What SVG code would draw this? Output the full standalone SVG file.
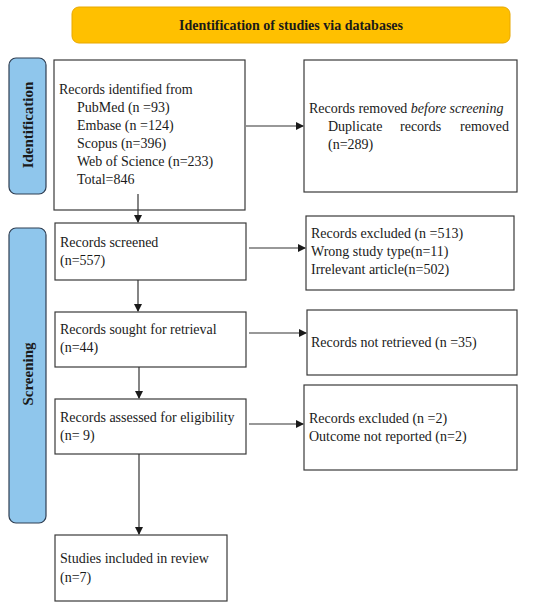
<svg xmlns="http://www.w3.org/2000/svg" width="550" height="609" viewBox="0 0 550 609">
<defs>
<marker id="ah" markerWidth="8" markerHeight="8" refX="7" refY="4" orient="auto" markerUnits="userSpaceOnUse">
<path d="M0,0 L8,4 L0,8 Z" fill="#1a1a1a"/>
</marker>
<style>
.box{fill:#fff;stroke:#3a3a3a;stroke-width:1.2}
.side{fill:#8fc6ec;stroke:#2f3e52;stroke-width:1.2}
.banner{fill:#ffc000;stroke:#e8a800;stroke-width:1}
.t{font-family:"Liberation Serif","Times New Roman",serif;font-size:14px;fill:#1a1a1a}
.b{font-family:"Liberation Serif","Times New Roman",serif;font-weight:bold;fill:#1a1a1a}
.c{stroke:#333;stroke-width:1.2;fill:none}
</style>
</defs>
<rect width="550" height="609" fill="#fff"/>
<g id="banner">
<rect class="banner" x="72" y="7" width="438" height="36" rx="7"/>
<text class="b" x="291" y="30" font-size="14" text-anchor="middle">Identification of studies via databases</text>
</g>
<g id="label-identification">
<rect class="side" x="9" y="58" width="37" height="136" rx="7"/>
<text class="b" font-size="15" text-anchor="middle" transform="translate(33,125) rotate(-90)">Identification</text>
</g>
<g id="label-screening">
<rect class="side" x="9" y="228" width="37" height="295" rx="7"/>
<text class="b" font-size="15" text-anchor="middle" transform="translate(33,374) rotate(-90)">Screening</text>
</g>
<g id="identified">
<rect class="box" x="54" y="60" width="191" height="150"/>
<text class="t" x="59" y="94">Records identified from</text>
<text class="t" x="77" y="112">PubMed (n =93)</text>
<text class="t" x="77" y="130">Embase (n =124)</text>
<text class="t" x="77" y="148">Scopus (n=396)</text>
<text class="t" x="77" y="166">Web of Science (n=233)</text>
<text class="t" x="77" y="184">Total=846</text>
</g>
<g id="removed">
<rect class="box" x="304" y="60" width="213" height="132"/>
<text class="t" x="309" y="113">Records removed <tspan font-style="italic">before screening</tspan></text>
<text class="t" y="131"><tspan x="328">Duplicate</tspan><tspan x="400">records</tspan><tspan x="460">removed</tspan></text>
<text class="t" x="328" y="149">(n=289)</text>
</g>
<g id="screened">
<rect class="box" x="55" y="223" width="191" height="57"/>
<text class="t" x="60" y="247">Records screened</text>
<text class="t" x="60" y="265">(n=557)</text>
</g>
<g id="excluded1">
<rect class="box" x="306" y="216" width="208" height="74"/>
<text class="t" x="311" y="238">Records excluded (n =513)</text>
<text class="t" x="311" y="256">Wrong study type(n=11)</text>
<text class="t" x="311" y="274">Irrelevant article(n=502)</text>
</g>
<g id="sought">
<rect class="box" x="55" y="312" width="191" height="55"/>
<text class="t" x="60" y="334">Records sought for retrieval</text>
<text class="t" x="60" y="352">(n=44)</text>
</g>
<g id="notretrieved">
<rect class="box" x="307" y="310" width="210" height="65"/>
<text class="t" x="311" y="347">Records not retrieved (n =35)</text>
</g>
<g id="assessed">
<rect class="box" x="55" y="399" width="191" height="55"/>
<text class="t" x="60" y="422">Records assessed for eligibility</text>
<text class="t" x="60" y="440">(n= 9)</text>
</g>
<g id="excluded2">
<rect class="box" x="304" y="385" width="213" height="85"/>
<text class="t" x="309" y="423">Records excluded (n =2)</text>
<text class="t" x="309" y="441">Outcome not reported (n=2)</text>
</g>
<g id="included">
<rect class="box" x="55" y="535" width="172" height="66"/>
<text class="t" x="60" y="563">Studies included in review</text>
<text class="t" x="60" y="582">(n=7)</text>
</g>
<g id="connectors">
<line class="c" x1="246" y1="126" x2="303" y2="126" marker-end="url(#ah)"/>
<line class="c" x1="138" y1="194" x2="138" y2="222" marker-end="url(#ah)"/>
<line class="c" x1="249" y1="248" x2="305" y2="248" marker-end="url(#ah)"/>
<line class="c" x1="138" y1="280" x2="138" y2="311" marker-end="url(#ah)"/>
<line class="c" x1="249" y1="333" x2="306" y2="333" marker-end="url(#ah)"/>
<line class="c" x1="139" y1="367" x2="139" y2="398" marker-end="url(#ah)"/>
<line class="c" x1="249" y1="424" x2="303" y2="424" marker-end="url(#ah)"/>
<line class="c" x1="139" y1="454" x2="139" y2="534" marker-end="url(#ah)"/>
</g>
</svg>
